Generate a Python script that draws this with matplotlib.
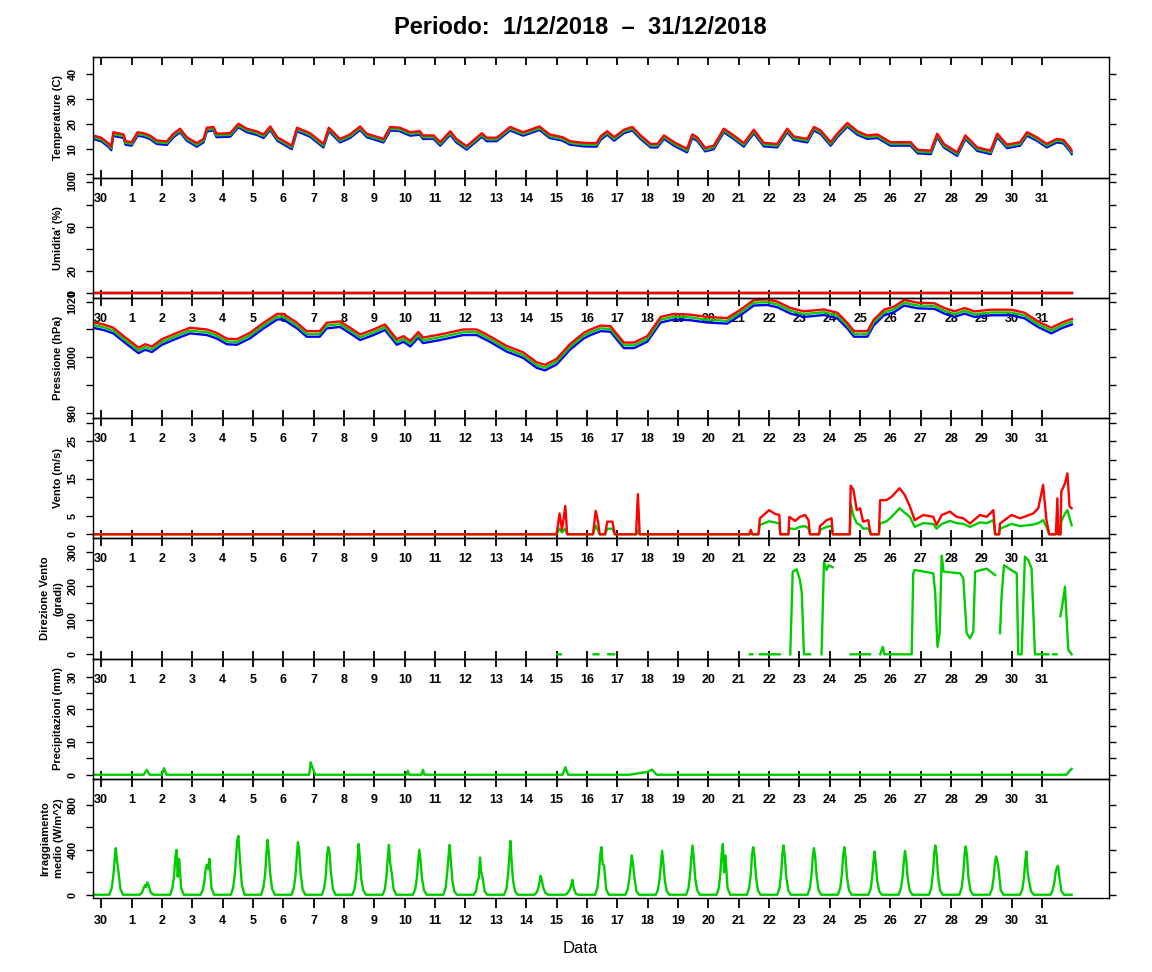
import numpy as np
import matplotlib.pyplot as plt

plt.rcParams['font.family'] = ['Liberation Sans', 'DejaVu Sans']

RED = '#ff0000'
GREEN = '#00cd00'
BLUE = '#0000ff'

# x axis: days since 30/11 00:00
day_labels = ['30'] + [str(d) for d in range(1, 32)]

# ---- temperature (C) ----
temp_t = [-0.27, 0.0, 0.25, 0.33, 0.40, 0.74, 0.80, 1.0, 1.2, 1.4,
          1.6, 1.83, 2.16, 2.38, 2.6, 2.82, 3.15, 3.37, 3.48, 3.7,
          3.8, 4.25, 4.52, 4.8, 5.13, 5.35, 5.57, 5.8, 6.28, 6.45,
          6.88, 7.32, 7.5, 7.87, 8.2, 8.53, 8.75, 9.3, 9.52, 9.84,
          10.18, 10.5, 10.6, 10.95, 11.17, 11.5, 11.7, 12.04, 12.54, 12.7,
          13.03, 13.47, 13.9, 14.44, 14.77, 15.2, 15.44, 15.9, 16.32, 16.45,
          16.56, 16.67, 16.9, 17.22, 17.5, 17.77, 18.1, 18.32, 18.54, 18.87,
          19.3, 19.47, 19.63, 19.9, 20.18, 20.51, 20.84, 21.17, 21.5, 21.83,
          22.27, 22.6, 22.82, 23.26, 23.48, 23.7, 24.03, 24.25, 24.58, 24.91,
          25.24, 25.57, 26.0, 26.66, 26.9, 27.33, 27.54, 27.76, 28.2, 28.47,
          28.86, 29.3, 29.52, 29.84, 30.27, 30.5, 30.82, 31.15, 31.48, 31.7,
          31.92, 31.97]
temp_max = [15.3, 14.4, 12.0, 10.8, 16.6, 15.7, 13.0, 12.6, 16.6, 16.2,
            15.3, 13.3, 12.9, 16.0, 18.0, 14.6, 12.2, 13.9, 18.4, 18.7,
            16.0, 16.2, 20.0, 18.0, 16.9, 15.7, 18.9, 14.6, 11.2, 18.4,
            16.2, 11.9, 18.4, 13.9, 15.7, 18.9, 16.0, 13.9, 18.7, 18.4,
            16.6, 17.0, 15.3, 15.3, 12.6, 17.0, 13.9, 11.0, 16.2, 14.4,
            14.4, 18.7, 16.6, 18.9, 15.7, 14.6, 13.0, 12.3, 12.2, 14.9,
            16.0, 17.0, 14.6, 17.6, 18.7, 15.3, 11.9, 11.9, 15.3, 12.6,
            9.9, 15.7, 14.6, 10.3, 11.2, 18.0, 15.3, 12.2, 17.6, 12.3,
            11.9, 18.0, 14.9, 13.9, 18.7, 17.3, 12.6, 16.0, 20.3, 17.0,
            15.3, 15.7, 12.6, 12.6, 9.5, 9.2, 16.0, 11.9, 8.5, 15.3,
            10.5, 9.2, 16.0, 11.6, 12.6, 16.6, 14.6, 11.9, 13.9, 13.5,
            10.3, 9.2]
temp_mean = [14.6, 13.7, 11.3, 10.1, 15.8, 15.0, 12.3, 11.9, 15.9, 15.5,
             14.6, 12.6, 12.2, 15.3, 17.3, 13.9, 11.5, 13.2, 17.6, 18.0,
             15.3, 15.5, 19.3, 17.3, 16.2, 15.0, 18.2, 13.9, 10.5, 17.7,
             15.5, 11.2, 17.7, 13.2, 15.0, 18.2, 15.3, 13.2, 18.0, 17.7,
             15.9, 16.3, 14.6, 14.6, 11.9, 16.3, 13.2, 10.3, 15.5, 13.7,
             13.7, 18.0, 15.9, 18.2, 15.0, 13.9, 12.3, 11.6, 11.5, 14.2,
             15.3, 16.3, 13.9, 16.9, 18.0, 14.6, 11.2, 11.2, 14.6, 11.9,
             9.2, 15.0, 13.9, 9.6, 10.5, 17.3, 14.6, 11.5, 16.9, 11.6,
             11.2, 17.3, 14.2, 13.2, 18.0, 16.6, 11.9, 15.3, 19.6, 16.3,
             14.6, 15.0, 11.9, 11.9, 8.8, 8.5, 15.3, 11.2, 7.8, 14.6,
             9.8, 8.5, 15.3, 10.9, 11.9, 15.9, 13.9, 11.2, 13.2, 12.8,
             9.6, 8.5]
temp_min = [13.9, 13.0, 10.6, 9.4, 15.1, 14.3, 11.6, 11.2, 15.2, 14.8,
            13.9, 11.9, 11.5, 14.6, 16.6, 13.2, 10.8, 12.5, 16.9, 17.3,
            14.6, 14.8, 18.6, 16.6, 15.5, 14.3, 17.5, 13.2, 9.8, 17.0,
            14.8, 10.5, 17.0, 12.5, 14.3, 17.5, 14.6, 12.5, 17.3, 17.0,
            15.2, 15.6, 13.9, 13.9, 11.2, 15.6, 12.5, 9.6, 14.8, 13.0,
            13.0, 17.3, 15.2, 17.5, 14.3, 13.2, 11.6, 10.9, 10.8, 13.5,
            14.6, 15.6, 13.2, 16.2, 17.3, 13.9, 10.5, 10.5, 13.9, 11.2,
            8.5, 14.3, 13.2, 8.9, 9.8, 16.6, 13.9, 10.8, 16.2, 10.9,
            10.5, 16.6, 13.5, 12.5, 17.3, 15.9, 11.2, 14.6, 18.9, 15.6,
            13.9, 14.3, 11.2, 11.2, 8.1, 7.8, 14.6, 10.5, 7.1, 13.9,
            9.1, 7.8, 14.6, 10.2, 11.2, 15.2, 13.2, 10.5, 12.5, 12.1,
            8.9, 7.8]

# ---- humidity (%) ----
hum_t = [-0.27, 31.97]
hum_max = [0.6, 0.6]
hum_mean = [0.4, 0.4]
hum_min = [0.2, 0.2]

# ---- pressure (hPa) ----
pres_t = [-0.27, 0.08, 0.4, 0.74, 1.23, 1.45, 1.67, 2.0, 2.5, 2.93,
          3.48, 3.8, 4.14, 4.47, 4.9, 5.35, 5.8, 6.0, 6.45, 6.77,
          7.2, 7.43, 7.87, 8.2, 8.53, 8.97, 9.35, 9.74, 9.96, 10.18,
          10.45, 10.6, 11.17, 11.93, 12.37, 12.8, 13.35, 13.9, 14.35, 14.62,
          15.0, 15.44, 15.9, 16.12, 16.45, 16.78, 17.0, 17.22, 17.55, 17.99,
          18.43, 18.87, 19.42, 19.96, 20.62, 21.06, 21.5, 21.94, 22.27, 22.71,
          23.15, 23.81, 24.25, 24.58, 24.8, 25.24, 25.45, 25.79, 26.12, 26.45,
          26.9, 27.45, 27.78, 28.11, 28.44, 28.77, 29.32, 29.98, 30.42, 30.86,
          31.3, 31.63, 31.98]
pres_max = [1012.6, 1011.8, 1010.6, 1007.6, 1003.5, 1004.7, 1003.9, 1006.5, 1008.8, 1010.6,
            1010.0, 1008.8, 1006.7, 1006.5, 1008.8, 1012.4, 1015.6, 1015.6, 1012.4, 1009.4,
            1009.4, 1012.4, 1012.9, 1010.6, 1008.2, 1010.0, 1011.8, 1006.5, 1007.6, 1005.9,
            1009.1, 1007.1, 1008.2, 1010.0, 1010.0, 1007.6, 1004.1, 1001.8, 998.2, 997.3,
            999.4, 1004.7, 1008.8, 1010.0, 1011.4, 1011.2, 1008.2, 1005.3, 1005.3, 1007.6,
            1014.5, 1015.6, 1015.3, 1014.5, 1014.1, 1017.1, 1020.6, 1020.8, 1020.0, 1017.7,
            1016.5, 1017.2, 1016.0, 1012.4, 1009.4, 1009.4, 1013.5, 1017.1, 1018.2, 1020.6,
            1019.6, 1019.4, 1017.7, 1016.5, 1017.7, 1016.5, 1017.1, 1017.1, 1016.0, 1012.9,
            1010.6, 1012.4, 1013.8]
pres_mean = [1011.6, 1010.8, 1009.6, 1006.6, 1002.5, 1003.7, 1002.9, 1005.5, 1007.8, 1009.6,
             1009.0, 1007.8, 1005.7, 1005.5, 1007.8, 1011.4, 1014.6, 1014.6, 1011.4, 1008.4,
             1008.4, 1011.4, 1011.9, 1009.6, 1007.2, 1009.0, 1010.8, 1005.5, 1006.6, 1004.9,
             1008.1, 1006.1, 1007.2, 1009.0, 1009.0, 1006.6, 1003.1, 1000.8, 997.2, 996.3,
             998.4, 1003.7, 1007.8, 1009.0, 1010.4, 1010.2, 1007.2, 1004.3, 1004.3, 1006.6,
             1013.5, 1014.6, 1014.3, 1013.5, 1013.1, 1016.1, 1019.6, 1019.8, 1019.0, 1016.7,
             1015.5, 1016.2, 1015.0, 1011.4, 1008.4, 1008.4, 1012.5, 1016.1, 1017.2, 1019.6,
             1018.6, 1018.4, 1016.7, 1015.5, 1016.7, 1015.5, 1016.1, 1016.1, 1015.0, 1011.9,
             1009.6, 1011.4, 1012.8]
pres_min = [1010.6, 1009.8, 1008.6, 1005.6, 1001.5, 1002.7, 1001.9, 1004.5, 1006.8, 1008.6,
            1008.0, 1006.8, 1004.7, 1004.5, 1006.8, 1010.4, 1013.6, 1013.6, 1010.4, 1007.4,
            1007.4, 1010.4, 1010.9, 1008.6, 1006.2, 1008.0, 1009.8, 1004.5, 1005.6, 1003.9,
            1007.1, 1005.1, 1006.2, 1008.0, 1008.0, 1005.6, 1002.1, 999.8, 996.2, 995.3,
            997.4, 1002.7, 1006.8, 1008.0, 1009.4, 1009.2, 1006.2, 1003.3, 1003.3, 1005.6,
            1012.5, 1013.6, 1013.3, 1012.5, 1012.1, 1015.1, 1018.6, 1018.8, 1018.0, 1015.7,
            1014.5, 1015.2, 1014.0, 1010.4, 1007.4, 1007.4, 1011.5, 1015.1, 1016.2, 1018.6,
            1017.6, 1017.4, 1015.7, 1014.5, 1015.7, 1014.5, 1015.1, 1015.1, 1014.0, 1010.9,
            1008.6, 1010.4, 1011.8]

# ---- wind speed (m/s) ----
wind_t = [-0.27, 15.0, 15.1, 15.18, 15.29, 15.35, 16.2, 16.29, 16.37, 16.42,
          16.6, 16.67, 16.84, 16.92, 17.62, 17.68, 17.74, 21.35, 21.4, 21.45,
          21.65, 21.7, 22.0, 22.2, 22.34, 22.37, 22.64, 22.67, 22.86, 23.02,
          23.19, 23.3, 23.35, 23.65, 23.68, 23.9, 24.06, 24.1, 24.66, 24.69,
          24.78, 24.89, 25.0, 25.1, 25.27, 25.35, 25.62, 25.66, 25.87, 26.04,
          26.3, 26.47, 26.64, 26.8, 27.08, 27.41, 27.52, 27.69, 27.96, 28.18,
          28.4, 28.62, 28.95, 29.17, 29.39, 29.45, 29.58, 29.61, 29.99, 30.27,
          30.7, 30.87, 31.03, 31.14, 31.23, 31.45, 31.5, 31.53, 31.56, 31.6,
          31.63, 31.75, 31.83, 31.9, 31.97]
wind_max = [0, 0, 5.6, 1.2, 7.6, 0, 0, 6.3, 3.4, 0,
            0, 3.4, 3.4, 0, 0, 10.8, 0, 0, 1.2, 0,
            0, 4.3, 6.5, 5.5, 5.2, 0, 0, 4.7, 3.6, 4.7,
            5.2, 3.8, 0, 0, 2.2, 3.8, 4.3, 0, 0, 13.1,
            12.0, 6.5, 7.0, 3.4, 3.8, 0, 0, 9.2, 9.2, 10.1,
            12.4, 10.6, 7.5, 3.8, 5.2, 4.7, 2.5, 5.2, 6.1, 4.7,
            4.3, 2.9, 5.2, 4.7, 6.5, 0, 0, 2.9, 5.2, 4.3,
            5.6, 7.0, 13.3, 3.8, 0, 0, 9.7, 0, 0, 0,
            11.5, 13.7, 16.4, 7.5, 7.0]
wind_mean = [0, 0, 1.5, 0.5, 1.5, 0, 0, 2.4, 1.0, 0,
             0, 1.5, 1.5, 0, 0, 1.1, 0, 0, 0.4, 0,
             0, 2.5, 3.5, 3.2, 2.9, 0, 0, 1.6, 1.4, 2.0,
             2.2, 1.6, 0, 0, 1.2, 2.0, 2.3, 0, 0, 8.3,
             5.0, 3.0, 2.5, 1.5, 1.6, 0, 0, 2.9, 3.5, 4.7,
             7.0, 5.8, 4.7, 2.0, 3.0, 2.8, 1.5, 2.8, 3.6, 3.0,
             2.8, 2.0, 3.2, 3.0, 3.8, 0, 0, 1.5, 2.8, 2.2,
             2.6, 3.0, 3.8, 2.0, 0, 0, 3.8, 0, 0, 0,
             3.5, 5.6, 6.5, 4.5, 2.4]

# ---- wind direction (degrees), nan = no data ----
nan = np.nan
dir_t = [15.03, 15.14, 15.2, 16.22, 16.38, 16.5, 16.7, 16.9, 17.0,
         21.37, 21.45, 21.5, 21.7, 22.35, 22.5,
         22.7, 22.78, 22.91, 23.02, 23.08, 23.15, 23.35, 23.5,
         23.73, 23.81, 23.9, 23.96, 24.1, 24.3,
         24.69, 25.33, 25.5,
         25.66, 25.75, 25.8, 26.7, 26.75, 26.8, 27.3, 27.41, 27.47, 27.55, 27.62,
         27.69, 27.75, 28.3, 28.4, 28.51, 28.62, 28.73, 28.79, 29.17, 29.45, 29.5,
         29.61, 29.66, 29.74, 29.94, 30.16, 30.21, 30.32, 30.43, 30.54, 30.65,
         30.76, 31.2, 31.3,
         31.36, 31.47, 31.5,
         31.6, 31.69, 31.75, 31.8, 31.86, 31.97]
dir_val = [0, 0, nan, 0, 0, nan, 0, 0, nan,
           0, 0, nan, 0, 0, nan,
           0, 243, 250, 218, 180, 0, 0, nan,
           0, 270, 248, 262, 256, nan,
           0, 0, nan,
           0, 22, 0, 0, 238, 248, 240, 238, 186, 22, 62,
           290, 243, 238, 223, 62, 47, 67, 243, 252, 233, nan,
           62, 170, 262, 250, 238, 0, 0, 287, 277, 252,
           0, 0, nan,
           0, 0, nan,
           112, 160, 199, 110, 13, 0]

# ---- precipitation (mm) ----
prec_t = [-0.27, 1.4, 1.5, 1.6, 2.0, 2.07, 2.15, 6.85, 6.9, 6.95,
          7.05, 10.05, 10.1, 10.15, 10.55, 10.6, 10.65, 15.2, 15.29, 15.38,
          17.4, 17.8, 18.0, 18.14, 18.3, 31.8, 31.9, 31.97]
prec_val = [0, 0, 1.5, 0, 0, 2.0, 0, 0, 3.8, 2.5,
            0, 0, 1.2, 0, 0, 1.5, 0, 0, 2.3, 0,
            0, 0.6, 0.8, 1.6, 0, 0, 1.2, 1.8]

# ---- solar radiation (W/m^2), daily readings at these hours ----
rad_hours = [6.5, 8.3, 9.6, 10.6, 11.5, 12.5, 13.6, 15.2, 17.3]
rad_daily = [
    [0, 60, 170, 310, 415, 300, 210, 50, 0],    # 30/11
    [0, 20, 60, 85, 70, 110, 80, 20, 0],
    [0, 60, 170, 330, 400, 160, 320, 60, 0],
    [0, 40, 120, 230, 267, 230, 320, 60, 0],
    [0, 60, 180, 330, 480, 524, 330, 90, 0],
    [0, 70, 180, 360, 489, 380, 190, 50, 0],
    [0, 60, 170, 330, 468, 400, 200, 50, 0],
    [0, 60, 170, 360, 424, 380, 200, 50, 0],
    [0, 50, 160, 300, 453, 330, 140, 40, 0],
    [0, 50, 170, 330, 444, 280, 200, 50, 0],
    [0, 50, 150, 300, 400, 300, 150, 40, 0],    # 10
    [0, 60, 200, 340, 444, 300, 130, 30, 0],
    [0, 30, 120, 150, 332, 200, 150, 30, 0],
    [0, 50, 170, 320, 480, 300, 130, 30, 0],
    [0, 20, 60, 120, 169, 120, 60, 15, 0],
    [0, 10, 30, 50, 80, 133, 60, 10, 0],
    [0, 60, 200, 360, 424, 270, 260, 50, 0],
    [0, 50, 150, 250, 350, 270, 150, 30, 0],
    [0, 50, 150, 280, 391, 280, 130, 30, 0],
    [0, 60, 180, 330, 439, 330, 150, 40, 0],
    [0, 60, 200, 370, 453, 200, 350, 60, 0],    # 20
    [0, 60, 180, 360, 424, 350, 170, 40, 0],
    [0, 60, 190, 370, 439, 340, 160, 40, 0],
    [0, 60, 180, 340, 415, 340, 170, 40, 0],
    [0, 60, 180, 350, 424, 340, 160, 40, 0],
    [0, 50, 160, 300, 385, 260, 120, 30, 0],
    [0, 60, 160, 300, 391, 310, 150, 40, 0],
    [0, 60, 190, 370, 439, 360, 170, 40, 0],
    [0, 60, 190, 360, 430, 350, 160, 40, 0],
    [0, 50, 150, 280, 341, 300, 220, 40, 0],
    [0, 50, 160, 300, 385, 200, 120, 30, 0],    # 30
    [0, 40, 110, 200, 240, 258, 150, 30, 0],
]

rad_t = [-0.27]
rad_val = [0]
for day, vals in enumerate(rad_daily):
    for h, v in zip(rad_hours, vals):
        rad_t.append(day + h / 24)
        rad_val.append(v)
rad_t.append(31.97)
rad_val.append(0)

# ---- layout (pixel rows of the panel edges) ----
W, H = 1152, 972
x0, x1 = 93, 1109
edges = [57, 178, 298, 418, 538, 659, 779, 898]

fig = plt.figure(figsize=(W / 100, H / 100), dpi=100)
axes = []
for i in range(7):
    ax = fig.add_axes([x0 / W, 1 - edges[i + 1] / H, (x1 - x0) / W,
                       (edges[i + 1] - edges[i]) / H])
    ax.patch.set_visible(False)   # so the day labels of the panel above show through
    axes.append(ax)

lw = 1.7
ax = axes[0]
ax.plot(temp_t, temp_min, color=BLUE, lw=lw)
ax.plot(temp_t, temp_mean, color=GREEN, lw=lw)
ax.plot(temp_t, temp_max, color=RED, lw=lw)
ax.set_ylim(-1.8, 46.8)
ax.set_yticks([0, 10, 20, 30, 40])

ax = axes[1]
ax.plot(hum_t, hum_min, color=BLUE, lw=lw)
ax.plot(hum_t, hum_mean, color=GREEN, lw=lw)
ax.plot(hum_t, hum_max, color=RED, lw=lw)
ax.set_ylim(-4.2, 103.9)
ax.set_yticks([0, 20, 40, 60, 80, 100])
ax.set_yticklabels(['0', '20', '', '60', '', '100'])

ax = axes[2]
ax.plot(pres_t, pres_min, color=BLUE, lw=lw)
ax.plot(pres_t, pres_mean, color=GREEN, lw=lw)
ax.plot(pres_t, pres_max, color=RED, lw=lw)
ax.set_ylim(978.2, 1021.3)
ax.set_yticks([980, 990, 1000, 1010, 1020])
ax.set_yticklabels(['980', '', '1000', '', '1020'])

ax = axes[3]
ax.plot(wind_t, wind_mean, color=GREEN, lw=lw)
ax.plot(wind_t, wind_max, color=RED, lw=lw)
ax.set_ylim(-1.0, 31.3)
ax.set_yticks([0, 5, 10, 15, 20, 25, 30])
ax.set_yticklabels(['0', '5', '', '15', '', '25', ''])

ax = axes[4]
ax.plot(dir_t, dir_val, color=GREEN, lw=lw)
ax.set_ylim(-13.8, 342)
ax.set_yticks([0, 50, 100, 150, 200, 250, 300])
ax.set_yticklabels(['0', '', '100', '', '200', '', '300'])

ax = axes[5]
ax.plot(prec_t, prec_val, color=GREEN, lw=lw)
ax.set_ylim(-1.3, 35.4)
ax.set_yticks([0, 5, 10, 15, 20, 25, 30])
ax.set_yticklabels(['0', '', '10', '', '20', '', '30'])

ax = axes[6]
ax.plot(rad_t, rad_val, color=GREEN, lw=lw)
ax.set_ylim(-29, 1031)
ax.set_yticks([0, 200, 400, 600, 800])
ax.set_yticklabels(['0', '', '400', '', '800'])

for i, ax in enumerate(axes):
    ax.set_xlim(-0.27, 33.2)
    ax.set_xticks(range(32))
    ax.set_xticklabels(day_labels)
    last = i == len(axes) - 1
    if last:
        ax.tick_params(axis='x', direction='out', length=7.5, width=1.3, pad=4.5,
                       labelsize=9)
    else:
        ax.tick_params(axis='x', direction='inout', length=12, width=1.3, pad=5.0,
                       labelsize=9)
    ax.tick_params(axis='y', direction='out', length=5, width=1.0, pad=6,
                   left=True, right=True, labelright=False, labelsize=7.8,
                   labelrotation=90)
    for lab in ax.get_xticklabels() + ax.get_yticklabels():
        lab.set_fontweight('bold')
    for lab in ax.get_yticklabels():
        lab.set_va('center')
    for sp in ax.spines.values():
        sp.set_linewidth(1.0)

# inward ticks along the top of the first panel
top = axes[0].secondary_xaxis('top')
top.set_xticks(range(32))
top.set_xticklabels([])
top.tick_params(direction='in', length=6, width=1.3)

ylabels = ['Temperature (C)', "Umidita' (%)", 'Pressione (hPa)', 'Vento (m/s)',
           'Direzione Vento\n(gradi)', 'Precipitazioni (mm)',
           'Irraggiamento\nmedio (W/m^2)']
for i, lab in enumerate(ylabels):
    yc = 1 - (edges[i] + edges[i + 1]) / 2 / H
    xc = 58 / W if '\n' not in lab else 52 / W
    fig.text(xc, yc, lab, rotation=90, ha='center', va='center',
             fontsize=8, fontweight='bold', linespacing=1.4)

fig.text(580 / W, 1 - 27 / H, 'Periodo:  1/12/2018  \u2013  31/12/2018',
         ha='center', va='center', fontsize=17, fontweight='bold')
fig.text(580 / W, 1 - 948 / H, 'Data', ha='center', va='center', fontsize=12)

fig.savefig('out.png', dpi=100)
